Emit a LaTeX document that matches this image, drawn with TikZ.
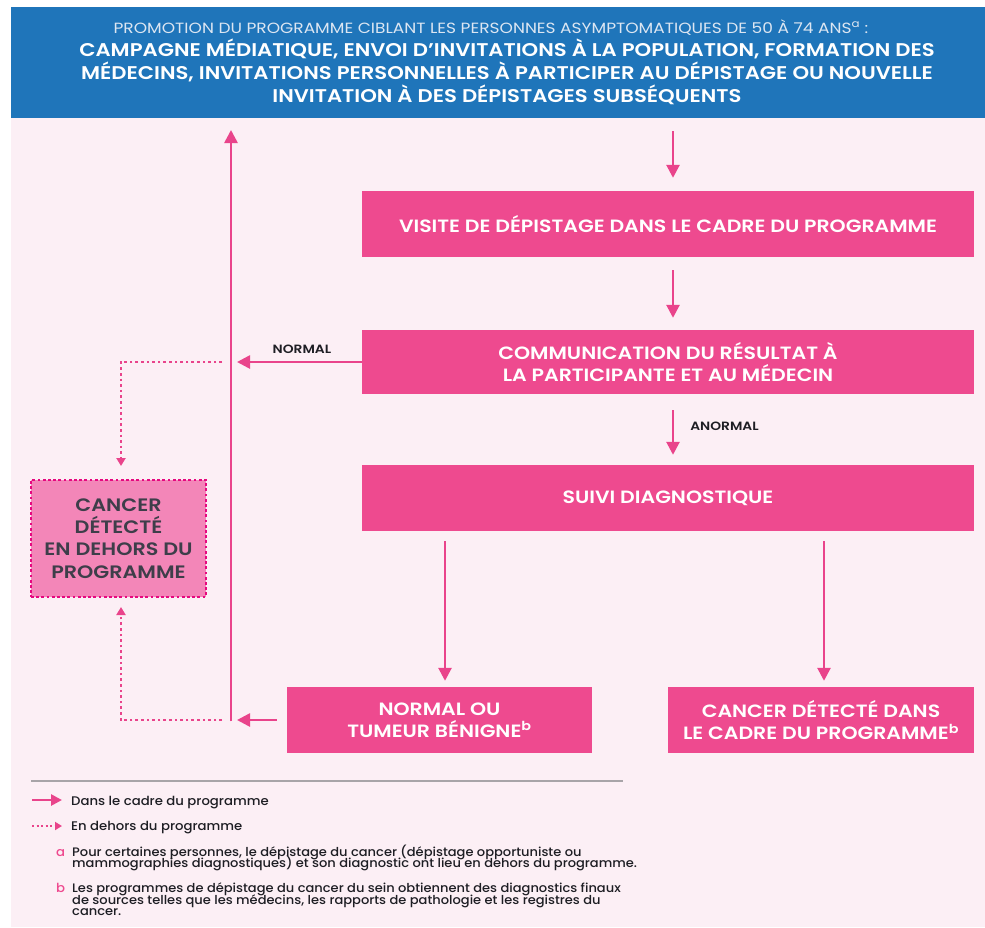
\documentclass[tikz,border=0pt]{standalone}
\usepackage{fontspec}
\setmainfont{Poppins}[BoldFont={Poppins SemiBold}, FakeStretch=1.15]
\newfontfamily\legfont{Poppins Medium}[FakeStretch=1.06]
\usetikzlibrary{arrows.meta}
\definecolor{hblue}{HTML}{1F75BA}
\definecolor{hlight}{HTML}{DCE6F2}
\definecolor{bgpink}{HTML}{FCEFF5}
\definecolor{boxpink}{HTML}{EE4A8F}
\definecolor{arrpink}{HTML}{E9448B}
\definecolor{dotpink}{HTML}{E6087F}
\definecolor{lightpink}{HTML}{F386B8}
\definecolor{darkgray}{HTML}{3E3E4A}
\definecolor{txt}{HTML}{1E1E24}
\definecolor{rulegray}{HTML}{A8A4A8}
\tikzset{
  box/.style={fill=boxpink, text=white, font=\fontsize{17.8}{22}\selectfont\bfseries, align=center, inner sep=0pt},
  arr/.style={draw=arrpink, line width=2.6pt, -{Triangle[length=13pt,width=13pt,fill=arrpink]}},
  dotarr/.style={draw=arrpink, line width=2.6pt, dash pattern=on 2.6pt off 3pt, -{Triangle[length=8pt,width=9pt,fill=arrpink]}},
  lbl/.style={font=\fontsize{12}{14}\selectfont\bfseries, text=txt, inner sep=0pt},
  legrow/.style={font=\legfont\fontsize{12.5}{14}\selectfont, text=txt, inner sep=0pt, anchor=base west},
  legtxt/.style={font=\legfont\fontsize{12.3}{12}\selectfont, text=txt, inner sep=0pt, anchor=base west},
  fnletter/.style={font=\legfont\fontsize{12.5}{12}\selectfont, text=boxpink, inner sep=0pt, anchor=base west}
}
\begin{document}
\begin{tikzpicture}[x=1pt,y=-1pt]
\useasboundingbox (0,0) rectangle (985,927);
\fill[white] (0,0) rectangle (985,927);
\fill[bgpink] (11,7) rectangle (985,927);
% header
\node[fill=hblue, minimum width=974pt, minimum height=111pt, inner sep=0pt, anchor=north west] (header) at (11,7) {};
\node[anchor=base, inner sep=0pt, text=hlight, font=\fontsize{14.8}{18}\selectfont] (h1) at (491,33) {PROMOTION DU PROGRAMME CIBLANT LES PERSONNES ASYMPTOMATIQUES DE 50 À 74 ANS\textsuperscript{a} :};
\node[anchor=base, inner sep=0pt, text=white, font=\fontsize{18.4}{22}\selectfont\bfseries] (h2) at (507,56) {CAMPAGNE MÉDIATIQUE, ENVOI D’INVITATIONS À LA POPULATION, FORMATION DES};
\node[anchor=base, inner sep=0pt, text=white, font=\fontsize{18.4}{22}\selectfont\bfseries] (h3) at (507,79) {MÉDECINS, INVITATIONS PERSONNELLES À PARTICIPER AU DÉPISTAGE OU NOUVELLE};
\node[anchor=base, inner sep=0pt, text=white, font=\fontsize{18.4}{22}\selectfont\bfseries] (h4) at (507,102) {INVITATION À DES DÉPISTAGES SUBSÉQUENTS};
% boxes
\node[box, minimum width=612pt, minimum height=66pt] (visite) at (668,224) {VISITE DE DÉPISTAGE DANS LE CADRE DU PROGRAMME};
\node[box, minimum width=612pt, minimum height=64pt] (comm) at (668,362) {COMMUNICATION DU RÉSULTAT À\\LA PARTICIPANTE ET AU MÉDECIN};
\node[box, minimum width=612pt, minimum height=66pt] (suivi) at (668,498) {SUIVI DIAGNOSTIQUE};
\node[box, minimum width=305pt, minimum height=66pt] (normal) at (439.5,720) {NORMAL OU\\TUMEUR BÉNIGNE\textsuperscript{b}};
\node[box, minimum width=306pt, minimum height=66pt] (cancer) at (821,720) {CANCER DÉTECTÉ DANS\\LE CADRE DU PROGRAMME\textsuperscript{b}};
\node[fill=lightpink, draw=dotpink, line width=2.8pt, dash pattern=on 2.8pt off 2.4pt, minimum width=175pt, minimum height=117pt, inner sep=0pt, align=center, text=darkgray, font=\fontsize{18}{22.3}\selectfont\bfseries] (outside) at (118.5,538.5) {CANCER\\DÉTECTÉ\\EN DEHORS DU\\PROGRAMME};
% coordinates
\coordinate (cx) at (673,0);
\coordinate (lx) at (445,0);
\coordinate (rx) at (824,0);
\coordinate (vtop) at (231,130);
\coordinate (vbot) at (231,720);
\coordinate (dtop) at (222,362);
\coordinate (dtl) at (121,362);
\coordinate (dtip) at (121,466);
\coordinate (dbot) at (222,720);
\coordinate (dbl) at (121,720);
\coordinate (dbtip) at (121,607);
% solid arrows
\draw[arr, shorten <=13pt, shorten >=13pt] (header.south -| cx) -- (visite.north -| cx);
\draw[arr, shorten <=13pt, shorten >=12pt] (visite.south -| cx) -- (comm.north -| cx);
\draw[arr, shorten <=16pt, shorten >=10pt] (comm.south -| cx) -- node[lbl, right=16pt, pos=0.45] (anormal) {ANORMAL} (suivi.north -| cx);
\draw[arr, shorten <=10pt, shorten >=6pt] (suivi.south -| lx) -- (normal.north -| lx);
\draw[arr, shorten <=10pt, shorten >=6pt] (suivi.south -| rx) -- (cancer.north -| rx);
\draw[arr] (comm.west) -- node[lbl, above=7pt, pos=0.48] (normlbl) {NORMAL} ([xshift=6pt]comm.west -| vtop);
\draw[arr, shorten <=10pt] (normal.west) -- ([xshift=6pt]normal.west -| vtop);
\draw[arr] ([yshift=-1.3pt]vbot) -- (vtop);
% dotted
\draw[dotarr] (dtop) -- (dtl) -- (dtip);
\draw[dotarr] (dbot) -- (dbl) -- (dbtip);
% legend
\coordinate (r1) at (31,781);
\coordinate (r2) at (623,781);
\draw[rulegray, line width=1.2pt] (r1) -- (r2);
\coordinate (l1a) at (32,800);
\coordinate (l1b) at (62,800);
\draw[draw=arrpink, line width=2.6pt, -{Triangle[length=11pt,width=11pt,fill=arrpink]}] (l1a) -- (l1b);
\node[legrow] (leg1) at (71,805) {Dans le cadre du programme};
\coordinate (l2a) at (32,826);
\coordinate (l2b) at (62,826);
\draw[draw=arrpink, line width=2pt, dash pattern=on 2pt off 2.5pt, -{Triangle[length=7pt,width=8pt,fill=arrpink]}] (l2a) -- (l2b);
\node[legrow] (leg2) at (71,830.5) {En dehors du programme};
\node[fnletter] (fa) at (56,856) {a};
\node[legtxt] (fa1) at (72,856) {Pour certaines personnes, le dépistage du cancer (dépistage opportuniste ou};
\node[legtxt] (fa2) at (72,867.5) {mammographies diagnostiques) et son diagnostic ont lieu en dehors du programme.};
\node[fnletter] (fb) at (56,892.5) {b};
\node[legtxt] (fb1) at (72,892.5) {Les programmes de dépistage du cancer du sein obtiennent des diagnostics finaux};
\node[legtxt] (fb2) at (72,904) {de sources telles que les médecins, les rapports de pathologie et les registres du};
\node[legtxt] (fb3) at (72,915.5) {cancer.};
\end{tikzpicture}
\end{document}
